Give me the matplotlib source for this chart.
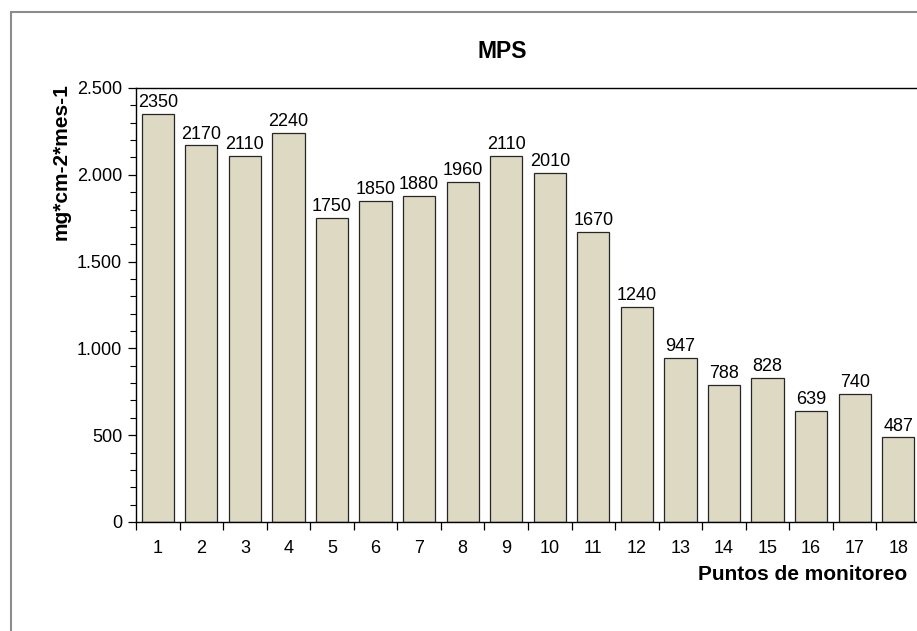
import matplotlib
matplotlib.use("Agg")
import matplotlib.pyplot as plt
from matplotlib.ticker import FuncFormatter, MultipleLocator, FixedLocator
from matplotlib.patches import Rectangle

plt.rcParams['font.family'] = ['Liberation Sans', 'DejaVu Sans']

categories = [str(i) for i in range(1, 19)]
values = [2350, 2170, 2110, 2240, 1750, 1850, 1880, 1960, 2110, 2010,
          1670, 1240, 947, 788, 828, 639, 740, 487]
title = "MPS"
ylabel = "mg*cm-2*mes-1"
xlabel = "Puntos de monitoreo"

W, H = 917, 631
fig = plt.figure(figsize=(W/100, H/100), dpi=100)

# outer chart border
fig.patches.append(Rectangle((11/W, -0.1), 1.2, 1 - 12/H + 0.1, transform=fig.transFigure,
                             fill=False, edgecolor='#8c8c8c', linewidth=1.5))

ax = fig.add_axes([136/W, 1 - 522/H, 784/W, 434/H])
x = list(range(len(categories)))
bars = ax.bar(x, values, width=0.74, color='#DDD9C3', edgecolor='#262626', linewidth=0.9)
ax.bar_label(bars, labels=[str(v) for v in values], padding=2, fontsize=13)

ax.set_xlim(-0.5, len(categories) - 0.5)
ax.set_ylim(0, 2500)
ax.yaxis.set_major_locator(MultipleLocator(500))
ax.yaxis.set_minor_locator(MultipleLocator(100))
ax.yaxis.set_major_formatter(FuncFormatter(lambda v, p: f"{int(v):,}".replace(",", ".")))
ax.tick_params(axis='y', which='major', direction='out', length=6, width=0.9, labelsize=13, pad=4)
ax.tick_params(axis='y', which='minor', direction='out', length=4, width=0.8)

ax.xaxis.set_major_locator(FixedLocator(x))
ax.set_xticklabels(categories)
ax.xaxis.set_minor_locator(FixedLocator([i - 0.5 for i in range(len(categories) + 1)]))
ax.tick_params(axis='x', which='major', length=0, labelsize=13, pad=13)
ax.tick_params(axis='x', which='minor', direction='out', length=6, width=0.9)

for s in ['left', 'bottom', 'top']:
    ax.spines[s].set_color('black')
    ax.spines[s].set_linewidth(1.0)
ax.spines['right'].set_visible(False)

fig.text(502/W, 1 - 51/H, title, ha='center', va='center', fontsize=16.5, fontweight='bold')
fig.text(61/W, 1 - 83/H, ylabel, rotation=90, ha='center', va='top', fontsize=15, fontweight='bold')
fig.text(907/W, 1 - 574/H, xlabel, ha='right', va='center', fontsize=15, fontweight='bold')

fig.savefig("out.png", dpi=100)
